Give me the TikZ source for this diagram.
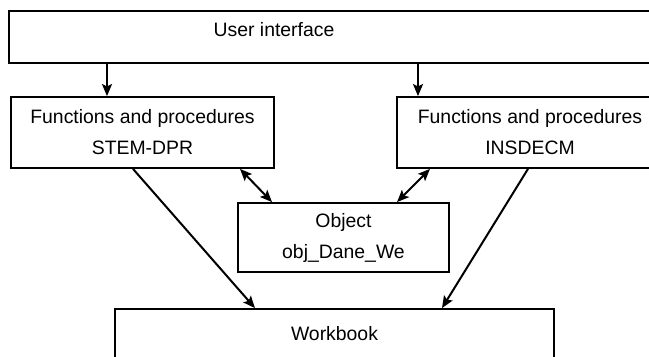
\documentclass[tikz,border=0pt]{standalone}
\usepackage{fontspec}
\setmainfont{Liberation Sans}
\usetikzlibrary{arrows.meta}

\tikzset{
  texte/.style={font=\fontsize{9.7}{15.5}\selectfont},
  boite/.style={draw, line width=0.9pt, inner sep=0pt, align=center, texte},
  fleche/.style={line width=1pt, -{Stealth[length=6pt, width=5pt, inset=1.2pt]}},
  flechedbl/.style={line width=1pt, {Stealth[length=6pt, width=5pt, inset=1.2pt]}-{Stealth[length=6pt, width=5pt, inset=1.2pt]}}
}

\begin{document}
\begin{tikzpicture}[x=0.5pt, y=-0.5pt]
    \useasboundingbox (0,0) rectangle (649,357);
    \clip (0,0) rectangle (649,357);

    % Interface
    \node[boite, minimum width=346pt, minimum height=26pt, anchor=north west] (ui) at (8,10) {};
    \node[texte] (uitxt) at (274,30) {User interface};

    % Fonctions et procedures
    \node[boite, minimum width=131.5pt, minimum height=35.5pt] (fpl) at (142.5,132.5) {Functions and procedures\\STEM-DPR};
    \node[boite, minimum width=133pt, minimum height=35.5pt] (fpr) at (530,132.5) {Functions and procedures\\INSDECM};

    % Objet et classeur
    \node[boite, minimum width=105.5pt, minimum height=34.5pt] (obj) at (343.5,237.5) {Object\\obj\_Dane\_We};
    \node[boite, minimum width=219.5pt, minimum height=25pt] (wb) at (334.5,334) {Workbook};

    % Fleches
    \coordinate (a1) at ([xshift=-17.75pt]fpl.north);
    \coordinate (a2) at ([xshift=-56pt]fpr.north);
    \draw[fleche] (a1 |- ui.south) -- (a1);
    \draw[fleche] (a2 |- ui.south) -- (a2);
    \draw[fleche] ([xshift=-4.75pt]fpl.south) -- ([xshift=-39.75pt]wb.north);
    \draw[fleche] ([xshift=-1pt]fpr.south) -- ([xshift=53.75pt]wb.north);
    \draw[flechedbl] ([xshift=48.75pt]fpl.south) -- ([xshift=-35.75pt]obj.north);
    \draw[flechedbl] ([xshift=-50pt]fpr.south) -- ([xshift=26.75pt]obj.north);
\end{tikzpicture}
\end{document}
